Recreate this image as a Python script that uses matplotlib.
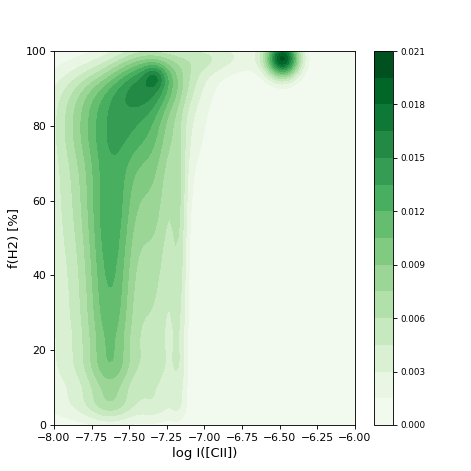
import numpy as np
import matplotlib
matplotlib.use("Agg")
import matplotlib.pyplot as plt

# density levels shown in the colour bar
levels = np.arange(0, 0.0211, 0.0015)
cbar_ticks = [0.000, 0.003, 0.006, 0.009, 0.012, 0.015, 0.018, 0.021]

# nodes along f(H2) for the main structure
node_y = [5, 14, 26, 40, 54, 67, 79, 89]
node_sy = [3.5, 6, 8, 8.5, 8.5, 8, 7, 6]

# amplitude of each x-component at every node
core_amp = [0.0032, 0.0052, 0.0060, 0.0063, 0.0058, 0.0035, 0.0, 0.0]
left_amp = [0.0017, 0.0025, 0.0029, 0.0029, 0.0030, 0.0023, 0.0016, 0.0011]
shoulder_amp = [0.0023, 0.0033, 0.0033, 0.0036, 0.0037, 0.0027, 0.0009, 0.0007]
edge_amp = [0.0014, 0.0020, 0.0021, 0.0024, 0.0024, 0.0021, 0.0005, 0.0]
wide_amp = [0.0, 0.0, 0.0, 0.0, 0.0010, 0.0035, 0.0085, 0.0070]

# x centre / width of those components (core, left, shoulder, edge, wide)
comp_cx = [-7.61, -7.82, -7.32, -7.17, -7.53]
comp_sx = [0.12, 0.22, 0.10, 0.04, 0.26]

# separate blobs near the top of the panel
blob_x = [-7.38, -7.33, -7.15, -7.00, -6.70, -6.48]
blob_y = [93.5, 93.2, 93.0, 98.5, 98.5, 98.0]
blob_sx = [0.16, 0.05, 0.15, 0.15, 0.20, 0.075]
blob_sy = [6.0, 2.2, 5.0, 3.5, 3.5, 3.5]
blob_amp = [0.0072, 0.0032, 0.0020, 0.0030, 0.0018, 0.0190]


def gauss(v, c, s):
    return np.exp(-0.5 * ((v - c) / s) ** 2)


xx, yy = np.meshgrid(np.linspace(-8, -6, 100), np.linspace(0, 100, 100))

amp_table = [core_amp, left_amp, shoulder_amp, edge_amp, wide_amp]
zz = np.zeros_like(xx)
for cx, sx, amps in zip(comp_cx, comp_sx, amp_table):
    gx = gauss(xx, cx, sx)
    for y0, sy, a in zip(node_y, node_sy, amps):
        zz += a * gx * gauss(yy, y0, sy)
for x0, y0, sx, sy, a in zip(blob_x, blob_y, blob_sx, blob_sy, blob_amp):
    zz += a * gauss(xx, x0, sx) * gauss(yy, y0, sy)
zz = np.clip(zz, 0, levels[-1] - 1e-5)

fig = plt.figure(figsize=(6, 6), dpi=78.5)
ax = fig.add_axes([0.1146, 0.0977, 0.639, 0.794])
cax = fig.add_axes([0.794, 0.0977, 0.0403, 0.794])

cs = ax.contourf(xx, yy, zz, levels=levels, cmap="Greens")
ax.set_xlim(-8, -6)
ax.set_ylim(0, 100)
xt = np.arange(-8, -5.9, 0.25)
ax.set_xticks(xt)
ax.set_xticklabels([f"{v:.2f}".replace("-", "\u2212") for v in xt])
ax.tick_params(labelsize=10)
ax.set_xlabel("log I([CII])", fontsize=12)
ax.set_ylabel("f(H2) [%]", fontsize=12)

cb = fig.colorbar(cs, cax=cax)
cb.set_ticks(cbar_ticks)
cb.set_ticklabels([f"{t:.3f}" for t in cbar_ticks])
cb.ax.tick_params(labelsize=8)

fig.savefig("out.png", dpi=78.5)
